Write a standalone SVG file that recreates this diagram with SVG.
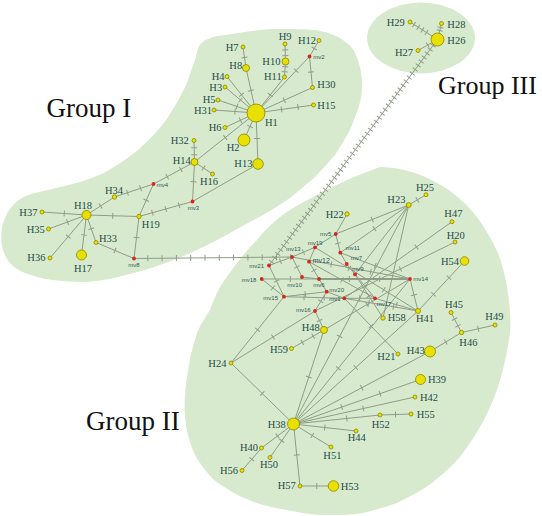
<svg xmlns="http://www.w3.org/2000/svg" width="542" height="516" viewBox="0 0 542 516">
<defs>
<style>
.g{fill:#d8eacd}
.e{stroke:#8f9c8a;stroke-width:1;fill:none;marker-mid:url(#t)}
.th{stroke-width:2}
.h1{stroke:#8f9c8a;stroke-width:6;fill:none;stroke-dasharray:0 13.3 1 0}
.h2{stroke:#8f9c8a;stroke-width:6;fill:none;stroke-dasharray:0 4 1 0}
.n{fill:#e8e000;stroke:#8c8600;stroke-width:0.8}
.m{fill:#d8261b}
.l{font-family:"Liberation Serif",serif;font-size:10.5px;fill:#1e4a4a}
.ml{font-family:"Liberation Sans",sans-serif;font-size:6px;fill:#2a5858}
.gl{font-family:"Liberation Serif",serif;font-size:27px;fill:#111}
</style>
<marker id="t" viewBox="-1 -4 2 8" refX="0" refY="0" markerWidth="2" markerHeight="8" orient="auto" markerUnits="userSpaceOnUse"><path d="M0,-3V3" stroke="#8f9c8a" stroke-width="1"/></marker>
</defs>
<g id="groups">
<path id="group1" class="g" d="M199,46 C205,38 215,36 225,35 C245,32 260,29 277,29 C292,29 303,29 315,30 C327,32 336,35 343,40 C350,45 355,50 357,58 C361,68 362,76 362,86 C362,96 360,104 357,112 C354,119 352,126 349,132 C344,140 340,148 335,155 C328,163 321,171 314,178 C306,185 298,191 290,198 C281,204 272,210 263,215 C252,221 241,227 230,233 C219,239 208,245 197,250 C186,255 174,260 163,264 C152,268 141,271 130,274 C115,278 101,281 86,282 C72,282 58,281 45,279 C34,276 22,273 14,267 C7,261 4,254 2,247 C1,240 1,233 2,227 C4,219 8,210 14,204 C20,198 27,195 35,193 C46,190 58,188 69,185 C81,182 93,178 104,173 C116,166 128,158 138,150 C148,141 158,131 166,120 C174,108 181,96 187,83 C190,74 193,65 196,57 C197,52 198,48 199,46 Z"/>
<ellipse id="group3" class="g" cx="421" cy="38" rx="54" ry="35.5"/>
<path id="group2" class="g" d="M380,167 C369,171 358,175 347,180 C336,185 324,191 313,197 C302,203 290,209 280,217 C271,224 263,232 257,240 C250,247 243,255 237,263 C231,271 225,279 220,287 C216,294 213,302 210,310 C205,318 200,325 197,333 C192,348 189,362 187,377 C185,390 184,404 185,417 C186,429 189,441 194,453 C199,463 206,472 214,480 C225,488 236,495 249,500 C261,505 274,508 287,510 C301,513 314,515 328,515 C340,515 351,515 363,513 C375,510 386,507 397,503 C409,497 421,491 432,483 C442,475 452,466 460,457 C469,445 477,433 484,420 C491,406 497,392 501,377 C505,362 508,348 510,333 C511,320 510,306 508,293 C506,279 503,266 498,253 C492,240 485,228 477,217 C469,207 460,198 449,190 C438,183 427,177 415,173 C403,169 392,167 380,167 Z"/>
</g>
<g id="group-labels">
<text class="gl" x="46.5" y="117">Group I</text>
<text class="gl" x="438" y="94" style="font-size:26px">Group III</text>
<text class="gl" x="86" y="430">Group II</text>
</g>
<g id="connectors">
<path class="e" d="M243,47 L244.5,57.5 L246,68"/>
<path class="e" d="M246,68 L251,90.5 L256,113"/>
<path class="e" d="M227,76.5 L241.5,94.75 L256,113"/>
<path class="e" d="M225,87 L240.5,100 L256,113"/>
<path class="e" d="M218,100 L237,106.5 L256,113"/>
<path class="e" d="M214,110 L235,111.5 L256,113"/>
<path class="e" d="M225,127.5 L240.5,120.25 L256,113"/>
<path class="e" d="M244,140 L250,126.5 L256,113"/>
<path class="e" d="M258,164 L257,138.5 L256,113"/>
<path class="e" d="M285,44 L285.2,49.8 L285.3,55.7 L285.5,61.5"/>
<path class="e" d="M285.5,61.5 L285.2,66.7 L284.8,71.8 L284.5,77"/>
<path class="e" d="M284.5,77 L270.25,95 L256,113"/>
<path class="e" d="M319,40.5 L314.25,48.5 L309.5,56.5"/>
<path class="e" d="M309.5,56.5 L296.1,70.6 L256,113"/>
<path class="e" d="M309.5,56.5 L311,72 L312.5,87.5"/>
<path class="e" d="M312.5,87.5 L284.25,100.25 L256,113"/>
<path class="e" d="M313.5,105 L298,107.16 L281.5,109.45 L256,113"/>
<path class="e" d="M194.5,162 L225.25,137.5 L256,113"/>
<path class="e" d="M194,140.5 L194.2,147.7 L194.3,154.8 L194.5,162"/>
<path class="e" d="M194.5,162 L203.5,168 L212.5,174"/>
<path class="e" d="M194.5,162 L193.5,181.75 L192.5,201.5"/>
<path class="e" d="M194.5,162 L180.8,169.3 L167.2,176.7 L153.5,184"/>
<path class="e" d="M192.5,201.5 L258,164"/>
<path class="e" d="M192.5,201.5 L179.1,205.25 L165.75,209 L152.4,212.75 L139,216.5"/>
<path class="e" d="M153.5,184 L140.5,188.3 L127.5,192.7 L114.5,197"/>
<path class="e" d="M153.5,184 L146.25,200.25 L139,216.5"/>
<path class="e" d="M114.5,197 L100.5,206 L86.5,215"/>
<path class="e" d="M86.5,215 L64.25,213.5 L42,212"/>
<path class="e" d="M86.5,215 L67.5,222 L48.5,229"/>
<path class="e" d="M86.5,215 L68.25,236.5 L50,258"/>
<path class="e" d="M86.5,215 L84,235 L81.5,255"/>
<path class="e" d="M86.5,215 L91.25,228.75 L96,242.5"/>
<path class="e" d="M86.5,215 L112.75,215.75 L139,216.5"/>
<path class="e" d="M139,216.5 L136.5,237.5 L134,258.5"/>
<path class="e" d="M96,242.5 L115,250.5 L134,258.5"/>
<path class="e" d="M134,258.5 L292,257"/>
<path class="h1" d="M134,258.5 L292,257"/>
<path class="e" d="M410,22 L414.1,24.6 L418.3,27.28 L422.4,29.9 L426.5,32.5 L437.5,39.5"/>
<path class="e" d="M441.5,23.5 L440.5,27.5 L439.75,30.5 L437.5,39.5"/>
<path class="e" d="M418,50.5 L427.75,45 L437.5,39.5"/>
<path class="e" d="M269,265.5 L437.5,39.5"/>
<path class="h2" d="M269,265.5 L437.5,39.5"/>
<path class="e" d="M269,265.5 L280.5,261.25 L292,257"/>
<path class="e" d="M269,265.5 L276.5,281.1 L284,296.7"/>
<path class="e" d="M261.7,279 L272.85,287.85 L284,296.7"/>
<path class="e" d="M261.7,279 L290.35,279 L319,279"/>
<path class="e th" d="M319,279 L349.3,279 L379.7,279 L410,279"/>
<path class="e" d="M292,257 L297,267 L302,277"/>
<path class="e" d="M292,257 L303.5,252.15 L315,247.3"/>
<path class="e" d="M292,257 L331.3,264.33 L370.7,271.67 L410,279"/>
<path class="e" d="M315,247.3 L335.7,234"/>
<path class="e" d="M315,247.3 L309,261.7"/>
<path class="e" d="M315,247.3 L349.3,268.5 L383.7,289.76 L418,311"/>
<path class="e" d="M335.7,234 L338,243.35 L340.3,252.7"/>
<path class="e" d="M340.3,252.7 L346.7,264"/>
<path class="e" d="M346.7,264 L355,274.3"/>
<path class="e" d="M355,274.3 L365,286.3 L375,298.3"/>
<path class="e" d="M335.7,234 L372.2,219.5 L408.7,205"/>
<path class="e" d="M335.7,234 L347,214"/>
<path class="e" d="M309,261.7 L314,270.35 L319,279"/>
<path class="e" d="M302,277 L319,279"/>
<path class="e" d="M319,279 L326.7,291.7"/>
<path class="e" d="M326.7,291.7 L305.35,294.2 L284,296.7"/>
<path class="e" d="M326.7,291.7 L344.3,298.3"/>
<path class="e" d="M326.7,291.7 L320.85,301.35 L315,311"/>
<path class="e" d="M315,311 L319.5,320.5 L324,330"/>
<path class="e" d="M344.3,298.3 L368.9,302.54 L393.4,306.75 L418,311"/>
<path class="e" d="M375,298.3 L396.5,304.65 L418,311"/>
<path class="e" d="M410,279 L414,295 L418,311"/>
<path class="e" d="M284,296.7 L304.1,297.2 L324.2,297.8 L344.3,298.3"/>
<path class="e" d="M344.3,298.3 L359.65,298.3 L375,298.3"/>
<path class="e" d="M309,261.7 L342,280 L375,298.3"/>
<path class="e" d="M340.3,252.7 L375.15,265.85 L410,279"/>
<path class="e" d="M355,274.3 L369,296.15 L383,318"/>
<path class="e" d="M344.3,298.3 L371.15,326.15 L398,354"/>
<path class="e" d="M408.7,205 L374.5,228.85 L340.3,252.7"/>
<path class="e" d="M408.7,205 L355,274.3"/>
<path class="e" d="M408.7,205 L383,318"/>
<path class="e" d="M408.7,205 L417.35,199.85 L426,194.7"/>
<path class="e" d="M408.7,205 L339.6,336.4 L293.5,424"/>
<path class="e" d="M452,221.7 L416.5,246.95 L344.3,298.3"/>
<path class="e" d="M455,242 L400.4,268.9 L315,311"/>
<path class="e" d="M464.5,261 L449,277.7 L433.5,294.3 L418,311"/>
<path class="e" d="M451,312.5 L454.5,319.17 L458,325.8 L461.5,332.5"/>
<path class="e" d="M461.5,332.5 L478.25,328.75 L495,325"/>
<path class="e" d="M430,351.5 L445.75,342 L461.5,332.5"/>
<path class="e" d="M293.5,424 L361.75,387.75 L430,351.5"/>
<path class="e" d="M293.5,424 L341.7,407.1 L380,393.7 L420.5,379.5"/>
<path class="e" d="M293.5,424 L363.3,408.5 L415,397"/>
<path class="e" d="M293.5,424 L346.7,418.46 L380,415"/>
<path class="e" d="M380,415 L395.5,414.5 L411,414"/>
<path class="e" d="M293.5,424 L324.75,427.5 L356,431"/>
<path class="e" d="M293.5,424 L312.25,435.5 L331,447"/>
<path class="e" d="M293.5,424 L296.75,455 L300,486"/>
<path class="e" d="M300,486 L316.75,486 L333.5,486"/>
<path class="e" d="M293.5,424 L281.75,440.75 L270,457.5"/>
<path class="e" d="M293.5,424 L277.5,436 L261.5,448"/>
<path class="e" d="M261.5,448 L251.75,459.25 L242,470.5"/>
<path class="e" d="M293.5,424 L262.25,393.5 L231,363"/>
<path class="e" d="M231,363 L257.5,329.85 L284,296.7"/>
<path class="e" d="M231,363 L273,337 L315,311"/>
<path class="e" d="M293.5,424 L308.75,377 L324,330"/>
<path class="e" d="M293.5,424 L338.35,368.2 L410,279"/>
<path class="e" d="M293.5,424 L355.75,367.5 L418,311"/>
<path class="e" d="M291.5,348.5 L302.33,342.33 L313.17,336.17 L324,330"/>
<path class="e" d="M324,330 L367,304.5 L410,279"/>
</g>
<g id="nodes">
<g id="H1"><circle class="n" cx="256" cy="113" r="9"/><text class="l" x="265" y="126.2">H1</text></g>
<g id="H2"><circle class="n" cx="244" cy="140" r="6"/><text class="l" x="226.7" y="150.5">H2</text></g>
<g id="H13"><circle class="n" cx="258" cy="164" r="5.3"/><text class="l" x="234.3" y="166.8">H13</text></g>
<g id="H7"><circle class="n" cx="243" cy="47" r="2"/><text class="l" x="225.7" y="51.2">H7</text></g>
<g id="H8"><circle class="n" cx="246" cy="68" r="3.5"/><text class="l" x="229.3" y="69.2">H8</text></g>
<g id="H9"><circle class="n" cx="285" cy="44" r="2"/><text class="l" x="278.7" y="40.2">H9</text></g>
<g id="H10"><circle class="n" cx="285.5" cy="61.5" r="3.5"/><text class="l" x="262.3" y="65.2">H10</text></g>
<g id="H11"><circle class="n" cx="284.5" cy="77" r="2"/><text class="l" x="264" y="79.5">H11</text></g>
<g id="H12"><circle class="n" cx="319" cy="40.5" r="2"/><text class="l" x="298" y="43.5">H12</text></g>
<g id="mv2"><circle class="m" cx="309.5" cy="56.5" r="1.9"/><text class="ml" x="313.3" y="58.5">mv2</text></g>
<g id="H30"><circle class="n" cx="312.5" cy="87.5" r="2"/><text class="l" x="317.3" y="87.5">H30</text></g>
<g id="H15"><circle class="n" cx="313.5" cy="105" r="2"/><text class="l" x="317.3" y="108.5">H15</text></g>
<g id="H4"><circle class="n" cx="227" cy="76.5" r="2"/><text class="l" x="211.7" y="79.8">H4</text></g>
<g id="H3"><circle class="n" cx="225" cy="87" r="2"/><text class="l" x="209.3" y="90.8">H3</text></g>
<g id="H5"><circle class="n" cx="218" cy="100" r="2"/><text class="l" x="202.7" y="102.8">H5</text></g>
<g id="H31"><circle class="n" cx="214" cy="110" r="2"/><text class="l" x="194" y="113.5">H31</text></g>
<g id="H6"><circle class="n" cx="225" cy="127.5" r="2"/><text class="l" x="208.7" y="130.8">H6</text></g>
<g id="H32"><circle class="n" cx="194" cy="140.5" r="2"/><text class="l" x="170.7" y="143.5">H32</text></g>
<g id="H14"><circle class="n" cx="194.5" cy="162" r="3.5"/><text class="l" x="172.7" y="164.2">H14</text></g>
<g id="H16"><circle class="n" cx="212.5" cy="174" r="2"/><text class="l" x="200" y="185.2">H16</text></g>
<g id="mv4"><circle class="m" cx="153.5" cy="184" r="1.9"/><text class="ml" x="156.7" y="187">mv4</text></g>
<g id="mv3"><circle class="m" cx="192.5" cy="201.5" r="1.9"/><text class="ml" x="187.7" y="209.5">mv3</text></g>
<g id="H34"><circle class="n" cx="114.5" cy="197" r="2.2"/><text class="l" x="105" y="193.5">H34</text></g>
<g id="H18"><circle class="n" cx="86.5" cy="215" r="4.5"/><text class="l" x="74" y="208.8">H18</text></g>
<g id="H37"><circle class="n" cx="42" cy="212" r="2"/><text class="l" x="19.3" y="215.5">H37</text></g>
<g id="H35"><circle class="n" cx="48.5" cy="229" r="2"/><text class="l" x="26.7" y="232.5">H35</text></g>
<g id="H36"><circle class="n" cx="50" cy="258" r="2"/><text class="l" x="27.3" y="261.2">H36</text></g>
<g id="H17"><circle class="n" cx="81.5" cy="255" r="5"/><text class="l" x="74" y="272">H17</text></g>
<g id="H33"><circle class="n" cx="96" cy="242.5" r="2"/><text class="l" x="99" y="241.8">H33</text></g>
<g id="H19"><circle class="n" cx="139" cy="216.5" r="2.2"/><text class="l" x="141.7" y="227.5">H19</text></g>
<g id="mv8"><circle class="m" cx="134" cy="258.5" r="1.9"/><text class="ml" x="128.3" y="267">mv8</text></g>
<g id="H29"><circle class="n" cx="410" cy="22" r="2"/><text class="l" x="386.7" y="25.8">H29</text></g>
<g id="H28"><circle class="n" cx="441.5" cy="23.5" r="2"/><text class="l" x="447.3" y="27.5">H28</text></g>
<g id="H26"><circle class="n" cx="437.5" cy="39.5" r="6.5"/><text class="l" x="447.3" y="43.8">H26</text></g>
<g id="H27"><circle class="n" cx="418" cy="50.5" r="2"/><text class="l" x="395" y="55.8">H27</text></g>
<g id="mv21"><circle class="m" cx="269" cy="265.5" r="1.9"/><text class="ml" x="249.3" y="267.5">mv21</text></g>
<g id="mv13"><circle class="m" cx="292" cy="257" r="1.9"/><text class="ml" x="286" y="250.5">mv13</text></g>
<g id="mv19"><circle class="m" cx="315" cy="247.3" r="1.9"/><text class="ml" x="307.7" y="244.5">mv19</text></g>
<g id="mv5"><circle class="m" cx="335.7" cy="234" r="1.9"/><text class="ml" x="320" y="236">mv5</text></g>
<g id="mv11"><circle class="m" cx="340.3" cy="252.7" r="1.9"/><text class="ml" x="345.7" y="250">mv11</text></g>
<g id="mv12"><circle class="m" cx="309" cy="261.7" r="1.9"/><text class="ml" x="312.7" y="263" style="font-size:7px">mv12</text></g>
<g id="mv7"><circle class="m" cx="346.7" cy="264" r="1.9"/><text class="ml" x="350.7" y="259.5">mv7</text></g>
<g id="mv9"><circle class="m" cx="355" cy="274.3" r="1.9"/><text class="ml" x="352.3" y="271">mv9</text></g>
<g id="mv18"><circle class="m" cx="261.7" cy="279" r="1.9"/><text class="ml" x="241.7" y="281.5">mv18</text></g>
<g id="mv10"><circle class="m" cx="302" cy="277" r="1.9"/><text class="ml" x="287.3" y="286.5">mv10</text></g>
<g id="mv6"><circle class="m" cx="319" cy="279" r="1.9"/><text class="ml" x="313.3" y="286.5">mv6</text></g>
<g id="mv14"><circle class="m" cx="410" cy="279" r="1.9"/><text class="ml" x="413.3" y="280.5">mv14</text></g>
<g id="mv20"><circle class="m" cx="326.7" cy="291.7" r="1.9"/><text class="ml" x="329.3" y="291.5">mv20</text></g>
<g id="mv15"><circle class="m" cx="284" cy="296.7" r="1.9"/><text class="ml" x="263.3" y="299.5">mv15</text></g>
<g id="mv1"><circle class="m" cx="344.3" cy="298.3" r="1.9"/><text class="ml" x="329.3" y="300.5">mv1</text></g>
<g id="mv17"><circle class="m" cx="375" cy="298.3" r="1.9"/><text class="ml" x="376.7" y="305.5">mv17</text></g>
<g id="mv16"><circle class="m" cx="315" cy="311" r="1.9"/><text class="ml" x="296" y="312">mv16</text></g>
<g id="H22"><circle class="n" cx="347" cy="214" r="2.2"/><text class="l" x="325.7" y="217.5">H22</text></g>
<g id="H23"><circle class="n" cx="408.7" cy="205" r="2.5"/><text class="l" x="387.3" y="202.5">H23</text></g>
<g id="H25"><circle class="n" cx="426" cy="194.7" r="2"/><text class="l" x="416" y="190.8">H25</text></g>
<g id="H47"><circle class="n" cx="452" cy="221.7" r="2"/><text class="l" x="444.3" y="216.8">H47</text></g>
<g id="H20"><circle class="n" cx="455" cy="242" r="2"/><text class="l" x="446.7" y="238.5">H20</text></g>
<g id="H54"><circle class="n" cx="464.5" cy="261" r="4.3"/><text class="l" x="441" y="264.5">H54</text></g>
<g id="H41"><circle class="n" cx="418" cy="311" r="2.5"/><text class="l" x="416" y="321.8">H41</text></g>
<g id="H58"><circle class="n" cx="383" cy="318" r="2.2"/><text class="l" x="387.7" y="320.8">H58</text></g>
<g id="H45"><circle class="n" cx="451" cy="312.5" r="2"/><text class="l" x="445" y="307.5">H45</text></g>
<g id="H46"><circle class="n" cx="461.5" cy="332.5" r="2.2"/><text class="l" x="459.3" y="346.2">H46</text></g>
<g id="H49"><circle class="n" cx="495" cy="325" r="2"/><text class="l" x="485.3" y="319.5">H49</text></g>
<g id="H43"><circle class="n" cx="430" cy="351.5" r="5.5"/><text class="l" x="406.7" y="353.5">H43</text></g>
<g id="H21"><circle class="n" cx="398" cy="354" r="2"/><text class="l" x="377.3" y="359.5">H21</text></g>
<g id="H48"><circle class="n" cx="324" cy="330" r="3.5"/><text class="l" x="301.7" y="331.2">H48</text></g>
<g id="H59"><circle class="n" cx="291.5" cy="348.5" r="2"/><text class="l" x="270" y="352.8">H59</text></g>
<g id="H24"><circle class="n" cx="231" cy="363" r="2"/><text class="l" x="208.3" y="366.8">H24</text></g>
<g id="H39"><circle class="n" cx="420.5" cy="379.5" r="5"/><text class="l" x="428" y="382.8">H39</text></g>
<g id="H42"><circle class="n" cx="415" cy="397" r="2"/><text class="l" x="420" y="400.8">H42</text></g>
<g id="H55"><circle class="n" cx="411" cy="414" r="2"/><text class="l" x="416.7" y="417.5">H55</text></g>
<g id="H52"><circle class="n" cx="380" cy="415" r="2"/><text class="l" x="371.7" y="427.5">H52</text></g>
<g id="H44"><circle class="n" cx="356" cy="431" r="2"/><text class="l" x="347.7" y="441.2">H44</text></g>
<g id="H51"><circle class="n" cx="331" cy="447" r="2"/><text class="l" x="323.3" y="458.5">H51</text></g>
<g id="H38"><circle class="n" cx="293.5" cy="424" r="6"/><text class="l" x="267.7" y="427.5">H38</text></g>
<g id="H40"><circle class="n" cx="261.5" cy="448" r="2"/><text class="l" x="240" y="450.8">H40</text></g>
<g id="H50"><circle class="n" cx="270" cy="457.5" r="2"/><text class="l" x="260" y="468.2">H50</text></g>
<g id="H56"><circle class="n" cx="242" cy="470.5" r="2"/><text class="l" x="220" y="474.2">H56</text></g>
<g id="H57"><circle class="n" cx="300" cy="486" r="2"/><text class="l" x="277.7" y="489.2">H57</text></g>
<g id="H53"><circle class="n" cx="333.5" cy="486" r="5.3"/><text class="l" x="340.7" y="489.5">H53</text></g>
</g>
</svg>
